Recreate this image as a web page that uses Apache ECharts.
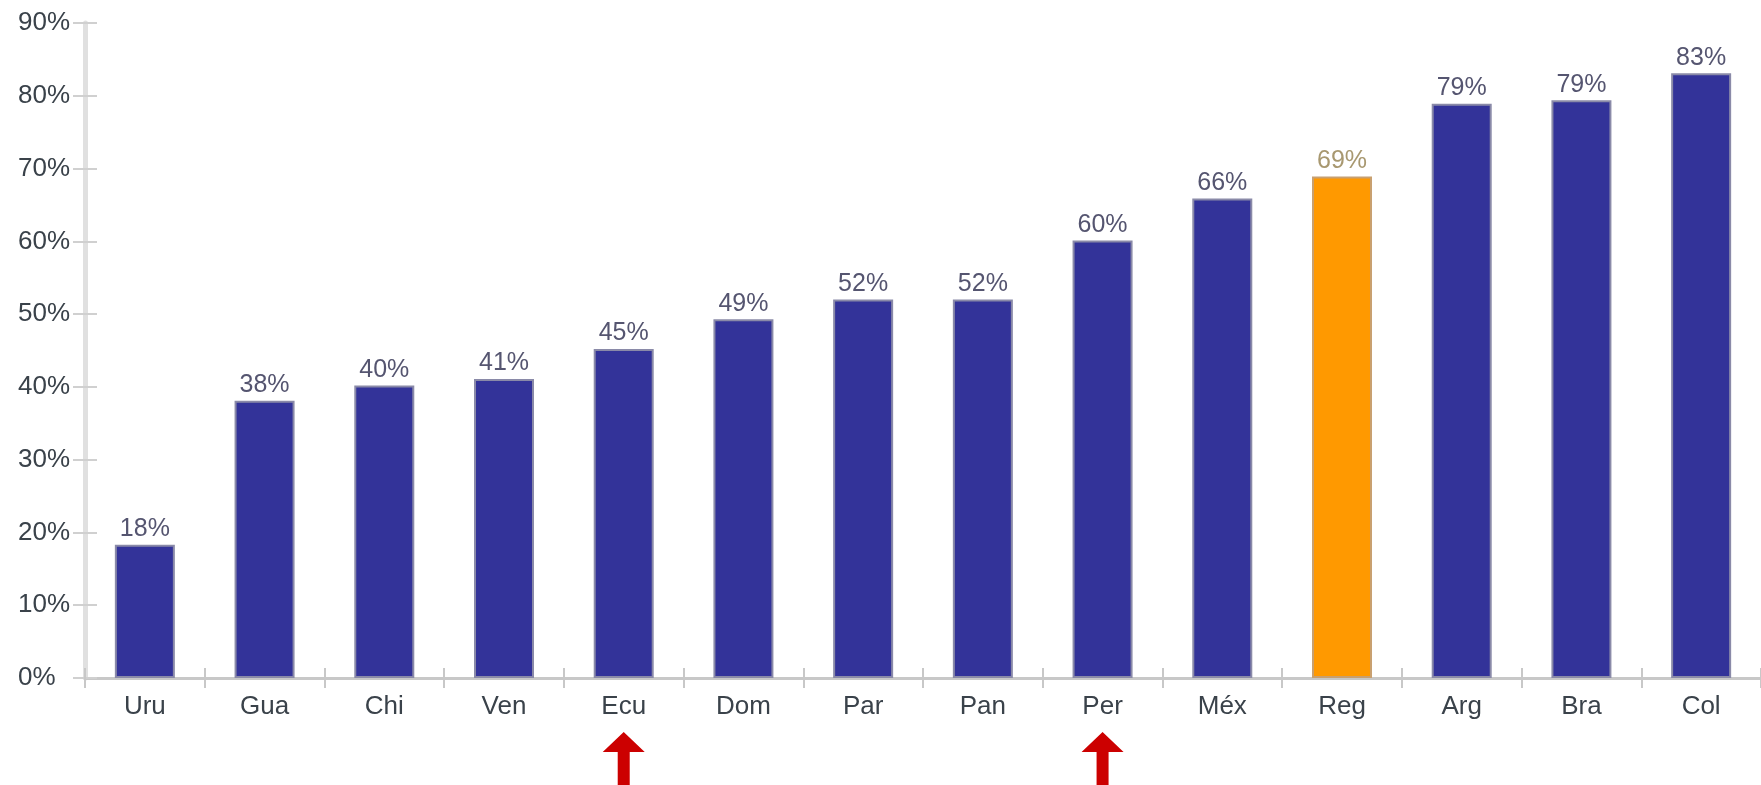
<!DOCTYPE html>
<html><head><meta charset="utf-8">
<script src="https://cdn.jsdelivr.net/npm/echarts@6/dist/echarts.min.js"></script>
<style>html,body{margin:0;padding:0;background:#fff}#c{width:1761px;height:785px}</style>
</head><body><div id="c"></div>
<script>
const categories = ['Uru','Gua','Chi','Ven','Ecu','Dom','Par','Pan','Per','Méx','Reg','Arg','Bra','Col'];
const values = [18.3, 38.1, 40.2, 41.1, 45.2, 49.3, 52.0, 52.0, 60.1, 65.9, 68.9, 78.9, 79.4, 83.1];
const highlight = 'Reg';
const arrowCats = ['Ecu','Per'];
const yTicks = [0,10,20,30,40,50,60,70,80,90];

const chart = echarts.init(document.getElementById('c'));
const font = 'Liberation Sans, Arial, sans-serif';
const grid = {left:85, top:23, bottom:107, width:1680};
chart.setOption({
  animation:false,
  grid: grid,
  xAxis: [{
    type:'category', data:categories, position:'bottom',
    axisLine:{lineStyle:{color:'#c8c8c8', width:3}},
    axisTick:{show:true, length:10, lineStyle:{color:'#c8c8c8', width:2}},
    axisLabel:{color:'#3a424a', fontSize:26, fontFamily:font, margin:16},
    splitLine:{show:false}
  },{
    type:'category', data:categories, position:'bottom',
    axisLine:{show:false},
    axisTick:{show:true, inside:true, length:10, lineStyle:{color:'#c8c8c8', width:2}},
    axisLabel:{show:false}, splitLine:{show:false}
  }],
  yAxis: [{
    type:'value', min:yTicks[0], max:yTicks[yTicks.length-1], interval:10,
    axisLine:{show:true, lineStyle:{color:'#e0e0e0', width:5}},
    axisTick:{show:true, length:12, lineStyle:{color:'#d0d0d0', width:2}},
    axisLabel:{color:'#3a424a', fontSize:26, fontFamily:font, margin:67, align:'left', formatter:v=>v+'%'},
    splitLine:{show:false}
  },{
    type:'value', min:yTicks[0], max:yTicks[yTicks.length-1], interval:10, position:'left',
    axisLine:{show:false},
    axisTick:{show:true, inside:true, length:12, lineStyle:{color:'#d0d0d0', width:2}},
    axisLabel:{show:false}, splitLine:{show:false}
  }],
  series:[{
    type:'bar', barWidth:60,
    data: values.map((v,i)=>{
      const hi = categories[i]===highlight;
      return {value:v,
        itemStyle:{color: hi ? '#ff9900' : '#333399', borderColor: hi ? '#c8a070' : '#8a8aa8', borderWidth:2},
        label:{color: hi ? '#a89870' : '#555570'}};
    }),
    label:{show:true, position:'top', distance:3, fontSize:25, fontFamily:font, formatter:p=>Math.round(p.value)+'%'}
  }]
});

// red arrows under selected categories
const graphics = arrowCats.map(c=>{
  const x = chart.convertToPixel({xAxisIndex:0}, c);
  return {type:'polygon', shape:{points:[[x,732],[x+21,752],[x+6,752],[x+6,790],[x-6,790],[x-6,752],[x-21,752]]},
          style:{fill:'#cc0000'}};
});
chart.setOption({graphic: graphics});
</script></body></html>
